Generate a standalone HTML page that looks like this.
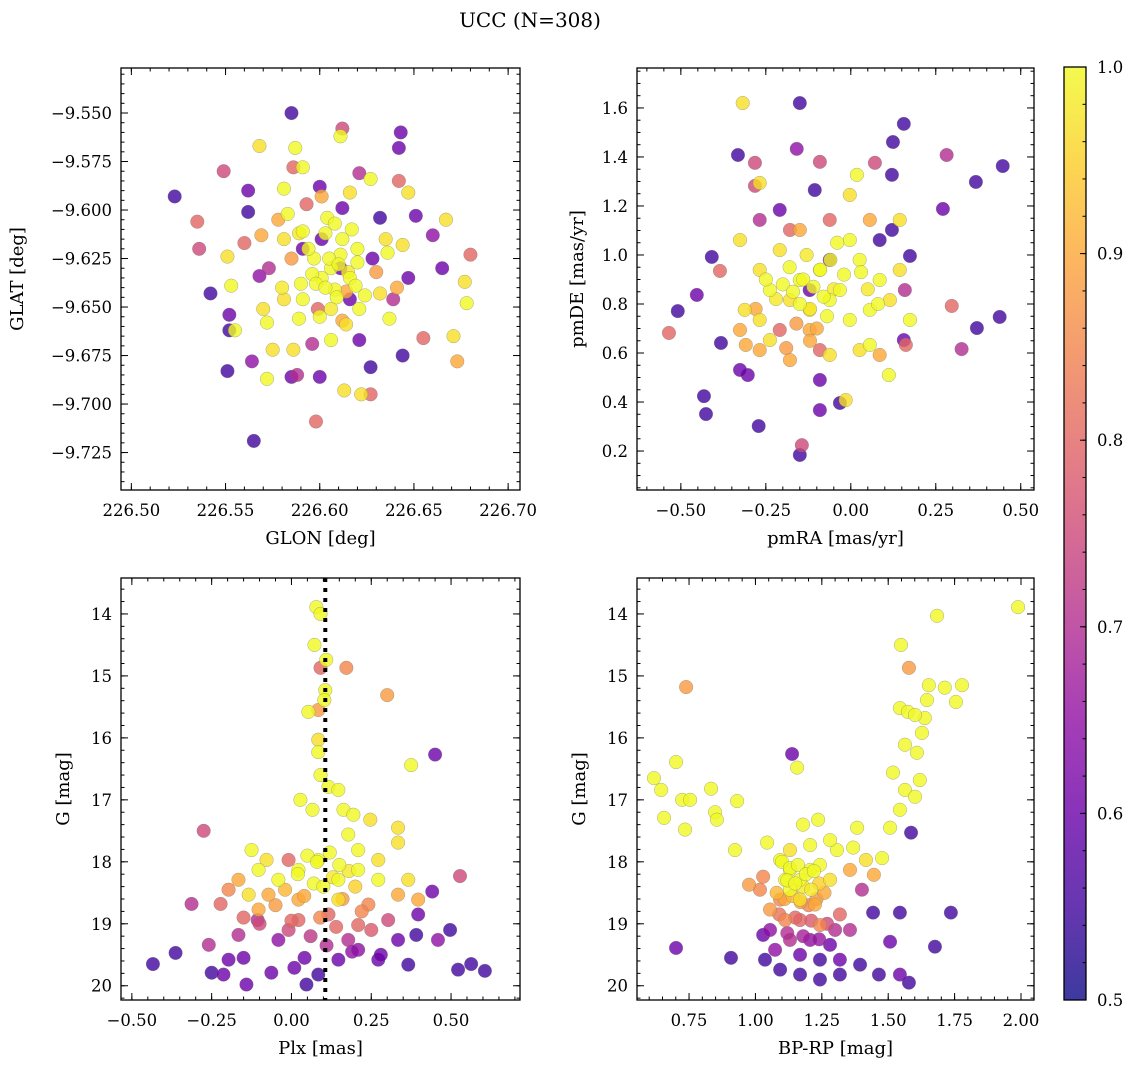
<!DOCTYPE html>
<html><head><meta charset="utf-8"><style>
html,body{margin:0;padding:0;background:#fff;}
svg{display:block;font-family:"DejaVu Serif","Liberation Serif",serif;}
</style></head><body>
<svg id="fig" width="1136" height="1067" viewBox="0 0 1136 1067" xmlns="http://www.w3.org/2000/svg">
<text x="530" y="27" font-size="20" text-anchor="middle">UCC (N=308)</text>
</svg>
<script>
// ---------- Panel 1: GLON / GLAT ----------
const p1Glon=[226.523,226.535,226.536,226.542,226.549,226.551,226.552,226.552,226.551,226.564,226.562,226.562,226.569,226.568,226.585,226.612,226.643,226.642,226.642,226.651,226.660,226.680,226.667,226.671,226.677,226.673,226.644,226.655,226.627,226.627,226.622,226.613,226.598,226.600,226.588,226.585,226.572,226.565,226.555,226.553,226.572,226.591,226.600,226.604,226.611,226.611,226.620,226.628,226.635,226.644,226.589,226.581,226.573,226.581,226.591,226.597,226.601,226.608,226.599,226.614,226.606,226.596,226.586,226.591,226.583,226.593,226.616,226.627,226.568,226.560,226.570,226.616,226.632,226.639,226.621,226.647,226.632,226.601,226.612,226.601,226.581,226.586,226.621,226.647,226.665,226.678,226.587,226.611,226.606,226.596,226.616,226.591,226.621,226.637,226.575,226.590,
226.603,226.608,226.612,226.617,226.605,226.610,226.615,226.620,226.598,226.603,226.609,226.614,226.619,226.624,226.600,226.606,226.612,226.594,226.589,226.585,226.578,226.630,226.636,226.641,226.580];
const p1Glat=[-9.593,-9.606,-9.620,-9.643,-9.580,-9.624,-9.654,-9.662,-9.683,-9.678,-9.590,-9.601,-9.613,-9.567,-9.550,-9.558,-9.560,-9.568,-9.585,-9.603,-9.613,-9.623,-9.605,-9.665,-9.637,-9.678,-9.675,-9.666,-9.681,-9.695,-9.695,-9.693,-9.709,-9.686,-9.685,-9.686,-9.687,-9.719,-9.662,-9.639,-9.658,-9.578,-9.588,-9.604,-9.623,-9.630,-9.620,-9.625,-9.615,-9.618,-9.656,-9.646,-9.630,-9.615,-9.611,-9.625,-9.635,-9.641,-9.651,-9.659,-9.667,-9.669,-9.672,-9.646,-9.602,-9.597,-9.591,-9.584,-9.634,-9.617,-9.651,-9.646,-9.643,-9.646,-9.667,-9.635,-9.604,-9.615,-9.599,-9.593,-9.589,-9.578,-9.581,-9.591,-9.630,-9.648,-9.568,-9.562,-9.630,-9.633,-9.635,-9.620,-9.651,-9.656,-9.672,-9.638,
-9.612,-9.607,-9.615,-9.610,-9.625,-9.628,-9.632,-9.627,-9.638,-9.640,-9.645,-9.642,-9.639,-9.644,-9.655,-9.651,-9.657,-9.620,-9.612,-9.625,-9.605,-9.632,-9.622,-9.640,-9.640];
const p1Prob=[0.55,0.8,0.75,0.55,0.75,0.97,0.6,0.55,0.55,0.65,0.6,0.55,0.9,0.97,0.55,0.75,0.6,0.6,0.8,0.6,0.65,0.8,0.97,0.97,0.97,0.9,0.55,0.8,0.55,0.8,0.97,0.97,0.8,0.6,0.7,0.6,1,0.55,1,1,1,1,0.6,1,1,0.6,1,0.6,0.97,0.97,1,0.97,0.7,0.97,1,1,1,1,0.8,0.97,1,0.7,0.97,1,1,0.8,0.97,1,0.65,0.8,0.97,0.6,0.97,0.7,0.6,0.6,0.55,0.6,0.6,0.9,1,0.8,0.7,0.97,0.6,1,1,1,1,1,1,0.6,1,1,0.97,1,
1,1,1,1,1,1,0.98,1,1,1,1,0.9,1,1,1,0.98,0.9,1,0.98,0.88,0.9,0.88,1,0.9,0.98];
// ---------- Panel 2: pmRA / pmDE ----------
const p2PmRA=[-0.535,-0.509,-0.453,-0.432,-0.426,-0.409,-0.385,-0.382,-0.332,-0.309,-0.303,-0.282,-0.271,-0.268,-0.318,-0.150,-0.282,-0.159,-0.091,-0.150,-0.144,-0.091,-0.032,-0.015,0.112,0.156,0.162,0.297,0.326,0.371,0.438,0.447,0.368,0.282,0.271,0.156,0.124,0.121,0.121,0.174,0.071,0.018,-0.150,-0.091,-0.032,0.026,0.085,-0.062,-0.121,-0.179,-0.238,-0.268,-0.209,-0.003,0.056,0.115,0.144,-0.003,-0.121,-0.209,-0.238,-0.179,-0.062,0.026,0.056,-0.268,-0.150,-0.062,-0.003,0.056,0.144,-0.268,-0.209,-0.326,-0.312,-0.106,-0.062,-0.121,-0.179,0.085,0.159,-0.268,-0.326,-0.091,0.085,0.174,-0.326,-0.091,
-0.20,-0.17,-0.14,-0.11,-0.08,-0.05,-0.02,-0.18,-0.15,-0.12,-0.09,-0.06,-0.22,-0.25,-0.13,-0.10,-0.07,-0.16,0.03,-0.28,-0.04,0.05,-0.19,-0.12,0.08];
const p2PmDE=[0.682,0.771,0.837,0.424,0.351,0.992,0.935,0.641,1.408,0.633,0.510,1.282,0.302,1.294,1.620,1.620,1.376,1.433,1.380,0.184,0.224,0.367,0.396,0.408,0.510,0.653,0.633,0.792,0.616,0.702,0.747,1.363,1.298,1.408,1.188,1.535,1.461,1.327,1.102,0.996,1.376,1.327,0.898,0.939,0.857,0.980,0.898,0.816,0.776,0.816,0.857,0.939,1.020,1.061,0.776,0.816,0.939,0.735,0.694,0.694,0.653,0.571,0.592,0.612,0.633,0.735,1.102,1.143,1.245,1.143,1.143,1.143,1.184,1.061,0.776,1.265,0.980,0.857,1.102,1.061,0.857,0.612,0.531,0.490,0.592,0.735,0.694,0.612,
0.88,0.85,0.90,0.87,0.83,0.86,0.92,0.95,0.80,0.78,0.94,0.98,0.82,0.90,1.00,0.70,0.75,0.72,0.93,0.78,1.05,0.86,0.62,0.65,0.80];
const p2Prob=[0.8,0.55,0.6,0.55,0.55,0.55,0.8,0.55,0.55,0.9,0.6,0.75,0.55,0.97,0.97,0.55,0.75,0.65,0.75,0.55,0.75,0.6,0.55,0.97,1,0.6,0.8,0.8,0.7,0.55,0.55,0.55,0.55,0.7,0.6,0.55,0.55,0.55,0.55,0.55,0.75,1,1,1,1,1,1,1,0.97,0.97,1,0.97,0.97,1,1,0.97,0.97,1,0.9,0.8,0.97,0.9,0.97,0.97,1,0.97,0.9,0.8,0.97,0.9,0.97,0.7,0.6,0.97,0.97,0.55,0.6,0.6,0.8,0.55,0.7,0.9,0.6,0.6,0.9,1,0.9,0.8,
1,1,1,1,1,0.98,1,1,1,0.98,1,1,0.98,1,0.98,0.9,1,0.88,1,0.9,1,0.98,0.88,0.9,1];
// ---------- Panel 3: Plx / G ----------
const plxLine=0.106;
const p3Plx=[-0.434,-0.363,-0.313,-0.275,-0.25,-0.213,-0.222,-0.141,-0.15,-0.106,-0.063,-0.041,-0.125,-0.078,0.009,0.047,0.084,0.041,0.078,0.091,0.072,0.109,0.091,0.172,0.106,0.103,0.300,0.084,0.053,0.084,0.084,0.450,0.375,0.091,0.116,0.028,0.066,0.147,0.163,0.194,0.247,0.334,0.334,-0.009,0.178,0.209,0.272,0.022,0.084,0.147,0.209,0.272,0.366,0.441,0.528,-0.041,-0.103,-0.166,-0.197,-0.134,-0.072,0.022,0.147,0.241,0.334,0.397,-0.103,0.022,0.116,0.209,0.303,0.397,0.391,0.497,0.459,0.209,0.272,0.334,0.366,0.147,0.178,-0.009,-0.166,-0.259,-0.197,0.522,0.563,0.606,
0.05,0.08,0.12,0.15,0.02,0.18,0.07,0.10,0.13,-0.02,0.20,0.04,0.16,-0.05,0.22,0.09,0.0,0.14,0.25,-0.10,0.06,0.11,0.19,-0.15,0.28];
const p3G=[19.65,19.47,18.68,17.50,19.79,19.82,18.68,19.98,19.55,18.94,19.79,19.26,17.81,17.97,19.71,19.98,19.82,19.55,13.89,14.0,14.50,14.74,14.87,14.87,15.23,15.39,15.31,15.55,15.58,16.03,16.23,16.27,16.44,16.60,16.79,17.0,17.16,16.84,17.16,17.24,17.32,17.45,17.69,17.97,17.56,17.81,17.97,18.13,17.97,18.29,18.13,18.29,18.29,18.48,18.23,18.29,18.13,18.29,18.45,18.53,18.53,18.61,18.61,18.69,18.53,18.61,18.77,18.94,18.85,19.02,18.94,18.85,19.18,19.10,19.26,19.42,19.58,19.26,19.66,19.58,19.26,19.10,19.18,19.34,19.58,19.74,19.65,19.76,
17.9,18.0,17.85,18.05,18.2,18.15,18.35,18.4,18.25,18.45,18.4,18.55,18.6,18.7,18.8,18.9,18.95,19.05,19.1,19.0,19.2,19.35,19.45,18.9,19.5];
const p3Prob=[0.55,0.55,0.7,0.75,0.55,0.6,0.8,0.6,0.6,0.7,0.6,0.65,1,0.97,0.6,0.55,0.55,0.6,1,1,1,1,0.8,0.85,1,1,0.88,0.88,1,0.97,1,0.6,1,1,1,1,1,1,1,1,0.97,0.97,0.97,0.8,1,1,0.97,1,1,1,1,1,0.97,0.6,0.75,1,1,0.9,0.85,0.97,0.9,0.9,0.97,0.85,0.9,0.9,0.9,0.8,0.8,0.8,0.75,0.6,0.55,0.55,0.65,0.65,0.6,0.6,0.55,0.6,0.7,0.75,0.7,0.7,0.6,0.55,0.55,0.55,
1,1,1,1,1,0.98,1,1,0.98,0.92,0.95,0.9,0.88,0.88,0.85,0.85,0.8,0.8,0.78,0.75,0.72,0.7,0.65,0.8,0.6];
// ---------- Panel 4: BP-RP / G ----------
const p4Color=[0.618,0.645,0.656,0.739,0.701,0.724,0.735,0.754,0.701,0.833,0.848,0.855,0.931,0.923,0.908,0.976,1.044,1.157,1.138,1.179,1.236,1.383,1.307,1.368,1.416,1.446,1.401,1.477,1.507,1.518,1.544,1.563,1.563,1.586,1.608,1.619,1.601,1.627,1.638,1.646,1.653,1.713,1.778,1.755,1.684,1.989,1.548,1.578,1.544,1.574,1.601,1.443,1.507,1.544,1.676,1.736,1.465,1.544,1.578,1.029,1.093,1.130,1.168,1.206,1.243,1.281,1.130,1.168,1.224,1.093,1.055,1.112,1.168,1.243,1.318,1.356,1.055,1.130,1.206,1.281,1.074,1.168,1.243,1.318,1.394,1.093,1.168,1.243,1.318,1.036,1.029,1.017,1.281,1.206,1.130,1.356,1.112,
1.10,1.13,1.16,1.19,1.22,1.12,1.15,1.18,1.21,1.24,1.08,1.11,1.14,1.17,1.20,1.23,1.26,1.09,1.15,1.21,1.27,1.12,1.18,1.24,1.30];
const p4G=[16.65,16.84,17.29,15.18,16.39,17.0,17.48,17.0,19.39,16.82,17.2,17.32,17.02,17.81,19.55,18.37,17.69,16.48,16.26,17.40,17.32,17.45,17.81,17.77,17.97,18.21,18.45,17.94,17.45,16.56,17.16,16.84,16.11,17.53,16.24,16.68,16.95,15.92,15.68,15.39,15.15,15.19,15.15,15.42,14.03,13.89,14.5,14.87,15.52,15.58,15.63,18.82,19.29,18.82,19.37,18.82,19.82,19.82,19.95,18.24,17.97,18.13,18.29,18.13,18.05,18.29,18.45,18.61,18.69,18.61,18.77,18.94,18.94,19.02,18.85,19.10,19.10,19.26,19.26,19.34,19.42,19.50,19.58,19.58,19.66,19.74,19.82,19.90,19.82,19.58,19.18,18.45,17.65,17.73,17.81,18.13,18.29,
18.0,18.1,18.05,18.2,18.15,18.3,18.35,18.4,18.45,18.35,18.5,18.6,18.55,18.65,18.7,18.6,18.5,18.85,18.9,18.95,19.0,19.15,19.2,19.25,19.1];
const p4Prob=[1,1,1,0.88,1,1,1,1,0.6,1,1,1,1,1,0.55,0.88,1,1,0.6,1,1,1,1,1,0.97,0.9,0.7,1,1,1,1,1,1,0.55,1,1,1,1,1,1,1,1,1,1,1,1,1,0.88,1,1,1,0.55,0.6,0.55,0.55,0.55,0.55,0.6,0.55,0.85,1,1,1,1,1,0.97,1,0.97,0.9,0.85,0.88,0.85,0.8,0.85,0.8,0.7,0.65,0.7,0.65,0.6,0.65,0.6,0.55,0.6,0.55,0.55,0.55,0.55,0.55,0.55,0.6,0.85,1,1,0.97,0.9,1,
1,1,1,1,1,1,1,0.98,0.98,0.95,0.92,0.9,0.92,0.88,0.85,0.88,0.9,0.82,0.8,0.78,0.75,0.7,0.68,0.66,0.7];
// ---------- Tick labels ----------
const p1XTicks=[226.50,226.55,226.60,226.65,226.70];
const p1YTicks=[-9.550,-9.575,-9.600,-9.625,-9.650,-9.675,-9.700,-9.725];
const p2XTicks=[-0.50,-0.25,0.00,0.25,0.50];
const p2YTicks=[0.2,0.4,0.6,0.8,1.0,1.2,1.4,1.6];
const p3XTicks=[-0.50,-0.25,0.00,0.25,0.50];
const gTicks=[14,15,16,17,18,19,20];
const p4XTicks=[0.75,1.00,1.25,1.50,1.75,2.00];
const cbTicks=[0.5,0.6,0.7,0.8,0.9,1.0];

const NS="http://www.w3.org/2000/svg";
const svg=document.getElementById('fig');
function mk(tag,attrs,parent){const e=document.createElementNS(NS,tag);for(const k in attrs)e.setAttribute(k,attrs[k]);(parent||svg).appendChild(e);return e;}
const stops=[[13,8,135],[65,4,157],[106,0,168],[143,13,164],[177,42,144],[204,71,120],[225,100,98],[242,132,75],[252,166,54],[252,206,37],[240,249,33]];
function plasma(t){t=Math.max(0,Math.min(1,t));const f=t*10;const i=Math.min(9,Math.floor(f));const r=f-i;const a=stops[i],b=stops[i+1];return 'rgb('+a.map((v,k)=>Math.round(v+(b[k]-v)*r)).join(',')+')';}
function probColor(p){return plasma((p-0.5)/0.5);}
const TICK_FS=16.5, LABEL_FS=18;

function panel(o){
  const {x0,x1,y0,y1,xmin,xmax,ymin,ymax,invertY,name}=o;
  const sx=v=>x0+(v-xmin)/(xmax-xmin)*(x1-x0);
  const sy=invertY? v=>y0+(v-ymin)/(ymax-ymin)*(y1-y0) : v=>y1-(v-ymin)/(ymax-ymin)*(y1-y0);
  const g=mk('g',{});
  
  
  const pts=mk('g',{},g);
  
  
  const idx=o.xs.map((_,i)=>i).sort((a,b)=>o.cs[a]-o.cs[b]);
  for(const i of idx){
    const c=mk('circle',{cx:sx(o.xs[i]),cy:sy(o.ys[i]),r:6.8,fill:probColor(o.cs[i]),'fill-opacity':0.8,stroke:'#777','stroke-width':0.5,'stroke-opacity':0.6},pts);
    
    
  }
  if(o.vline!==undefined){
    const l=mk('line',{x1:sx(o.vline),x2:sx(o.vline),y1:y0,y2:y1,stroke:'#000','stroke-width':4,'stroke-dasharray':'4 6'},g);
    
    
  }
  mk('rect',{x:x0,y:y0,width:x1-x0,height:y1-y0,fill:'none',stroke:'#000','stroke-width':1.3},g);
  const tk=(x,y,dx,dy)=>mk('line',{x1:x,y1:y,x2:x+dx,y2:y+dy,stroke:'#000','stroke-width':1},g);
  o.xt.forEach(v=>{const x=sx(v);tk(x,y1,0,-7);tk(x,y0,0,7);
    const t=mk('text',{x:x,y:y1+26,'font-size':TICK_FS,'text-anchor':'middle'},g);t.textContent=(v<0?'\u2212':'')+Math.abs(v).toFixed(o.xd);
    });
  o.yt.forEach(v=>{const y=sy(v);tk(x0,y,7,0);tk(x1,y,-7,0);
    const t=mk('text',{x:x0-9,y:y+6,'font-size':TICK_FS,'text-anchor':'end'},g);t.textContent=(v<0?'\u2212':'')+Math.abs(v).toFixed(o.yd);
    });
  for(let v=Math.ceil(xmin/o.xm)*o.xm;v<=xmax;v+=o.xm){const x=sx(v);tk(x,y1,0,-3.5);tk(x,y0,0,3.5);}
  const lo=Math.min(ymin,ymax),hi=Math.max(ymin,ymax);
  for(let v=Math.ceil(lo/o.ym)*o.ym;v<=hi;v+=o.ym){const y=sy(v);tk(x0,y,3.5,0);tk(x1,y,-3.5,0);}
  const xl=mk('text',{x:(x0+x1)/2,y:y1+54,'font-size':LABEL_FS,'text-anchor':'middle'},g);xl.textContent=o.xlabel;
  
  const yx=o.ylx, yy=(y0+y1)/2;
  const yl=mk('text',{x:yx,y:yy,'font-size':LABEL_FS,'text-anchor':'middle',transform:'rotate(-90 '+yx+' '+yy+')'},g);yl.textContent=o.ylabel;
  
}

panel({name:'position-panel',x0:121,x1:520,y0:68,y1:490,xmin:226.4945,xmax:226.7063,ymin:-9.7443,ymax:-9.5268,xs:p1Glon,ys:p1Glat,cs:p1Prob,xt:p1XTicks,yt:p1YTicks,xd:2,yd:3,xm:0.01,ym:0.005,xlabel:'GLON [deg]',ylabel:'GLAT [deg]',ylx:23});
panel({name:'proper-motion-panel',x0:637,x1:1034,y0:68,y1:490,xmin:-0.629,xmax:0.539,ymin:0.041,ymax:1.763,xs:p2PmRA,ys:p2PmDE,cs:p2Prob,xt:p2XTicks,yt:p2YTicks,xd:2,yd:1,xm:0.05,ym:0.05,xlabel:'pmRA [mas/yr]',ylabel:'pmDE [mas/yr]',ylx:583});
panel({name:'parallax-panel',x0:121,x1:520,y0:578,y1:1000,xmin:-0.534,xmax:0.716,ymin:13.42,ymax:20.23,invertY:true,xs:p3Plx,ys:p3G,cs:p3Prob,xt:p3XTicks,yt:gTicks,xd:2,yd:0,xm:0.05,ym:0.2,xlabel:'Plx [mas]',ylabel:'G [mag]',ylx:69,vline:plxLine});
panel({name:'cmd-panel',x0:637,x1:1034,y0:578,y1:1000,xmin:0.554,xmax:2.049,ymin:13.42,ymax:20.23,invertY:true,xs:p4Color,ys:p4G,cs:p4Prob,xt:p4XTicks,yt:gTicks,xd:2,yd:0,xm:0.05,ym:0.2,xlabel:'BP-RP [mag]',ylabel:'G [mag]',ylx:585});

// colorbar
const cb=mk('g',{});


const defs=mk('defs',{},cb);
const lg=mk('linearGradient',{id:'cbg',x1:0,y1:1,x2:0,y2:0},defs);
for(let i=0;i<=20;i++){mk('stop',{offset:(i/20),'stop-color':plasma(i/20),'stop-opacity':0.8},lg);}
const cx0=1064,cx1=1086,cy0=67,cy1=1000;
mk('rect',{x:cx0,y:cy0,width:cx1-cx0,height:cy1-cy0,fill:'url(#cbg)',stroke:'#000','stroke-width':1.3},cb);
const cy=v=>cy1-(v-0.5)/0.5*(cy1-cy0);
cbTicks.forEach(v=>{mk('line',{x1:cx1,x2:cx1-6,y1:cy(v),y2:cy(v),stroke:'#000'},cb);
  const t=mk('text',{x:cx1+11,y:cy(v)+6,'font-size':TICK_FS},cb);t.textContent=v.toFixed(1);
  });
for(let v=0.52;v<1.0;v+=0.02){mk('line',{x1:cx1,x2:cx1-3.5,y1:cy(v),y2:cy(v),stroke:'#000'},cb);}
</script>
</body></html>
